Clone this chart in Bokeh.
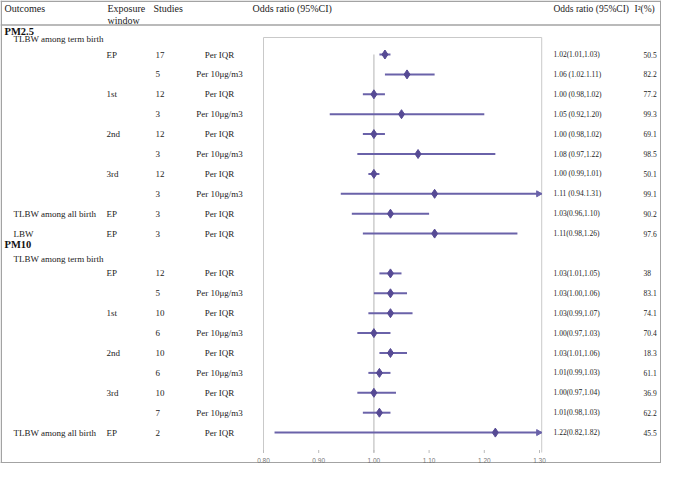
import math
from bokeh.plotting import figure
from bokeh.models import Range1d, ColumnDataSource
from bokeh.core.properties import value
from bokeh.embed import file_html
from bokeh.resources import INLINE

# ---------------- data ----------------
rows = [0, 1, 2, 3, 4, 5, 6, 7, 8, 9, 11, 12, 13, 14, 15, 16, 17, 18, 19]
outcome = ["", "", "", "", "", "", "", "", "TLBW among all birth", "LBW",
           "", "", "", "", "", "", "", "", "TLBW among all birth"]
exposure = ["EP", "", "1st", "", "2nd", "", "3rd", "", "EP", "EP",
            "EP", "", "1st", "", "2nd", "", "3rd", "", "EP"]
studies = ["17", "5", "12", "3", "12", "3", "12", "3", "3", "3",
           "12", "5", "10", "6", "10", "6", "10", "7", "2"]
unit = ["Per IQR", "Per 10μg/m3", "Per IQR", "Per 10μg/m3", "Per IQR", "Per 10μg/m3",
        "Per IQR", "Per 10μg/m3", "Per IQR", "Per IQR",
        "Per IQR", "Per 10μg/m3", "Per IQR", "Per 10μg/m3", "Per IQR", "Per 10μg/m3",
        "Per IQR", "Per 10μg/m3", "Per IQR"]
or_est = [1.02, 1.06, 1.00, 1.05, 1.00, 1.08, 1.00, 1.11, 1.03, 1.11,
          1.03, 1.03, 1.03, 1.00, 1.03, 1.01, 1.00, 1.01, 1.22]
ci_low = [1.01, 1.02, 0.98, 0.92, 0.98, 0.97, 0.99, 0.94, 0.96, 0.98,
          1.01, 1.00, 0.99, 0.97, 1.01, 0.99, 0.97, 0.98, 0.82]
ci_high = [1.03, 1.11, 1.02, 1.20, 1.02, 1.22, 1.01, 1.31, 1.10, 1.26,
           1.05, 1.06, 1.07, 1.03, 1.06, 1.03, 1.04, 1.03, 1.82]
or_text = ["1.02(1.01,1.03)", "1.06 (1.02.1.11)", "1.00 (0.98,1.02)", "1.05 (0.92,1.20)",
           "1.00 (0.98,1.02)", "1.08 (0.97,1.22)", "1.00 (0.99,1.01)", "1.11 (0.94.1.31)",
           "1.03(0.96,1.10)", "1.11(0.98,1.26)",
           "1.03(1.01,1.05)", "1.03(1.00,1.06)", "1.03(0.99,1.07)", "1.00(0.97,1.03)",
           "1.03(1.01,1.06)", "1.01(0.99,1.03)", "1.00(0.97,1.04)", "1.01(0.98,1.03)",
           "1.22(0.82,1.82)"]
i2 = ["50.5", "82.2", "77.2", "99.3", "69.1", "98.5", "50.1", "99.1", "90.2", "97.6",
      "38", "83.1", "74.1", "70.4", "18.3", "61.1", "36.9", "62.2", "45.5"]
tick_vals = [0.80, 0.90, 1.00, 1.10, 1.20, 1.30]
tick_labels = ["0.80", "0.90", "1.00", "1.10", "1.20", "1.30"]
headers_left = ["Outcomes", "Exposure", "window", "Studies", "Odds ratio (95%CI)"]
headers_right = ["Odds ratio (95%CI)", "I²(%)"]
groups = ["PM2.5", "PM10"]
group_sub = ["TLBW among term birth", "TLBW among term birth"]

# ---------------- layout constants ----------------
W, H = 661, 463
AX_MIN, AX_MAX = 0.80, 1.304
X_ONE, PX_PER_OR = 373.4, 552.0
ROW0, ROW_H = 54.0, 19.9
SERIF = value("Liberation Serif")
TXT = "#222222"
LINEC = "#a3a3a3"
FOREST_LINE = "#6a62a9"
FOREST_MARK = "#564a94"

p = figure(width=W, height=H, x_range=Range1d(0, W), y_range=Range1d(H, 0),
           output_backend="svg", toolbar_location=None,
           x_axis_type=None, y_axis_type=None, min_border=0)
p.outline_line_color = None
p.background_fill_color = "white"
p.border_fill_color = "white"
p.extra_x_ranges = {"or": Range1d(1 - X_ONE / PX_PER_OR, 1 + (W - X_ONE) / PX_PER_OR)}
p.extra_y_ranges = {"row": Range1d((H - ROW0) / ROW_H, (0 - ROW0) / ROW_H)}

# table rules
p.segment(x0=[0, 0, 0, 0.8, 660.2], x1=[W, W, W, 0.8, 660.2],
          y0=[0.7, 24.5, 462.2, 0, 0], y1=[0.7, 24.5, 462.2, H, H],
          line_color=LINEC, line_width=1.4)

# header texts
p.text(x=[4, 107, 107, 153, 252], y=[8, 8, 19.5, 8, 8], text=headers_left,
       text_font=SERIF, text_font_size="10px",
       text_color=TXT, text_baseline="middle", text_align="left")
p.text(x=[553, 634], y=[8, 8], text=headers_right,
       text_font=SERIF, text_font_size="9.5px",
       text_color=TXT, text_baseline="middle", text_align="left")

# group labels
p.text(x=[4, 4], y=[-1.15, 9.55], text=groups, y_range_name="row",
       text_font=SERIF, text_font_size="10.5px", text_font_style="bold",
       text_color="#111111", text_baseline="middle")
p.text(x=[13, 13], y=[-0.8, 10.27], text=group_sub, y_range_name="row",
       text_font=SERIF, text_font_size="9px", text_color=TXT, text_baseline="middle")

src = ColumnDataSource(dict(row=rows, outcome=outcome, exposure=exposure, studies=studies,
                            unit=unit, est=or_est, lo=ci_low,
                            hi=[min(h, AX_MAX) for h in ci_high],
                            ortext=or_text, i2=i2))

for col, x, align, size in [("outcome", 13, "left", "9px"), ("exposure", 106, "left", "9px"),
                            ("studies", 155, "left", "9px"), ("unit", 219, "center", "9px"),
                            ("ortext", 553, "left", "7.5px"), ("i2", 643, "left", "7.5px")]:
    p.text(x=x, y="row", text=col, source=src, y_range_name="row",
           text_font=SERIF, text_font_size=size, text_color=TXT,
           text_baseline="middle", text_align=align)

# forest plot box
p.line([AX_MIN, AX_MIN, AX_MAX, AX_MAX], [452, 37, 37, 452], x_range_name="or",
       line_color="#c9c9c9", line_width=1)
# reference line at 1
p.segment(x0=[1.0], x1=[1.0], y0=[0], y1=[20.0], x_range_name="or", y_range_name="row",
          line_color="#c4c4c4", line_width=1.3)

# ticks
p.segment(x0=tick_vals, x1=tick_vals, y0=[449.5] * 6, y1=[452.5] * 6, x_range_name="or",
          line_color="#bbbbbb", line_width=1)
p.text(x=tick_vals, y=[460] * 6, text=tick_labels, x_range_name="or",
       text_font=value("Liberation Sans"), text_font_size="6.5px", text_color="#777777",
       text_align="center", text_baseline="middle")

# CI lines and estimates
p.segment(x0="lo", x1="hi", y0="row", y1="row", source=src, x_range_name="or",
          y_range_name="row", line_color=FOREST_LINE, line_width=2)
arrow_rows = [r for r, h in zip(rows, ci_high) if h > AX_MAX]
p.scatter(x=[AX_MAX - 0.006] * len(arrow_rows), y=arrow_rows, marker="triangle",
          angle=-math.pi / 2, size=6, color=FOREST_LINE,
          x_range_name="or", y_range_name="row")
p.scatter(x="est", y="row", source=src, marker="diamond", size=9,
          fill_color=FOREST_MARK, line_color=FOREST_MARK,
          x_range_name="or", y_range_name="row")

open("out.html", "w").write(file_html(p, INLINE))
